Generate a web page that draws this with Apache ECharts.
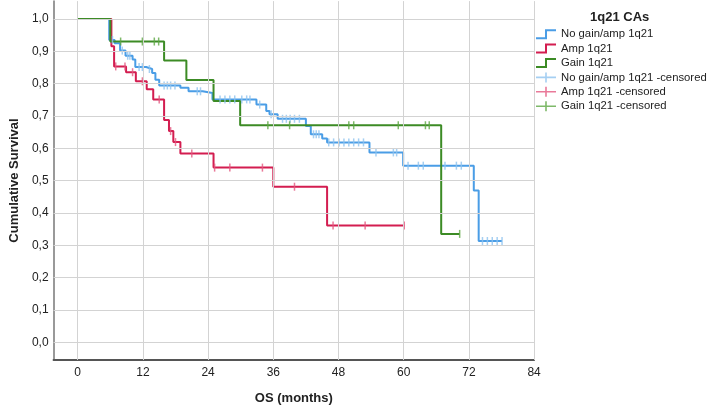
<!DOCTYPE html>
<html>
<head>
<meta charset="utf-8">
<script src="https://cdn.jsdelivr.net/npm/echarts@6/dist/echarts.min.js"></script>
<style>
  html, body { margin: 0; padding: 0; background: #fff; }
  #chart { width: 708px; height: 410px; }
</style>
</head>
<body>
<div id="chart"></div>
<script>
// tick labels
const xTicks = [0, 12, 24, 36, 48, 60, 72, 84];
const yTicks = [0, 0.1, 0.2, 0.3, 0.4, 0.5, 0.6, 0.7, 0.8, 0.9, 1.0];

// No gain/amp 1q21 : event times (months) and survival after each step
const noGainTimes = [0, 5.8, 6.8, 7.8, 8.8, 10.1, 10.6, 12.6, 13.7, 14.3, 15.0, 18.9, 20.4, 23.0, 24.8, 32.9, 34.7, 35.3, 36.8, 42.0, 42.9, 45.0, 45.9, 53.7, 59.9, 72.9, 73.8];
const noGainSurv = [1.0, 0.935, 0.925, 0.902, 0.886, 0.874, 0.851, 0.845, 0.833, 0.812, 0.794, 0.787, 0.776, 0.771, 0.751, 0.735, 0.715, 0.705, 0.691, 0.669, 0.643, 0.630, 0.618, 0.587, 0.546, 0.469, 0.313];
const noGainCensored = [6.4, 8.2, 9.2, 9.6, 11.3, 11.9, 13.2, 15.9, 16.5, 17.1, 17.9, 22.0, 22.6, 26.2, 27.1, 28.0, 28.9, 30.2, 31.1, 31.7, 33.5, 35.6, 37.7, 38.4, 39.1, 39.9, 40.8, 43.4, 43.9, 44.4, 46.2, 47.1, 48.1, 49.0, 49.9, 50.8, 51.7, 52.6, 54.9, 58.1, 58.7, 60.8, 62.7, 63.6, 67.6, 69.7, 70.6, 74.5, 75.4, 76.3, 77.2, 78.1];

// Amp 1q21
const ampTimes = [0, 6.2, 6.7, 8.9, 10.7, 12.7, 13.9, 15.9, 16.8, 17.6, 18.9, 25.0, 36.0, 45.9];
const ampSurv = [1.0, 0.915, 0.853, 0.835, 0.807, 0.782, 0.751, 0.687, 0.653, 0.619, 0.584, 0.540, 0.481, 0.361];
const ampCensored = [7.0, 8.7, 10.1, 11.9, 15.0, 17.1, 18.0, 21.0, 25.2, 28.0, 34.0, 39.9, 47.0, 52.9, 60.1];

// Gain 1q21
const gainTimes = [0, 6.0, 15.9, 20.0, 25.0, 29.9, 66.9];
const gainSurv = [1.0, 0.930, 0.871, 0.811, 0.746, 0.671, 0.335];
const gainCensored = [7.9, 11.9, 14.1, 14.9, 35.0, 39.0, 49.9, 50.8, 59.0, 64.0, 64.7, 70.3];

const groupNames = ["No gain/amp 1q21", "Amp 1q21", "Gain 1q21"];
const lineColors = ["#4a9de6", "#d31d50", "#3c8b25"];
const censorColors = ["#8fc3ef", "#e4577f", "#5ea843"];

// survival value at time t (step function)
function survAt(times, surv, t) {
  let s = surv[0];
  times.forEach((tt, i) => {
    if (tt <= t) s = surv[i];
  });
  return s;
}

// curve points, extended to the last follow-up
function stepData(times, surv, censored) {
  const pts = times.map((t, i) => [t, surv[i]]);
  const end = Math.max(...censored);
  if (end > times[times.length - 1]) pts.push([end, surv[surv.length - 1]]);
  return pts;
}

function censorData(times, surv, censored) {
  return censored.map(t => [t, survAt(times, surv, t)]);
}

const groups = [
  [noGainTimes, noGainSurv, noGainCensored],
  [ampTimes, ampSurv, ampCensored],
  [gainTimes, gainSurv, gainCensored],
];

const stepIcon = "path://M0,8 L9,8 L9,0 L20,0 L20,2 L11,2 L11,10 L0,10 Z";
const plusIcon = "path://M0,4.2 L20,4.2 L20,5.8 L0,5.8 Z M9.2,0 L10.8,0 L10.8,10 L9.2,10 Z";

const series = [];
// gridlines drawn at tick values
series.push({
  type: "line",
  data: [],
  silent: true,
  markLine: {
    silent: true,
    symbol: ["none", "none"],
    label: { show: false },
    lineStyle: { color: "#d3d3d3", width: 1, type: "solid" },
    animation: false,
    data: xTicks.map(v => ({ xAxis: v })).concat(yTicks.map(v => ({ yAxis: v }))),
  },
});
groups.forEach((g, i) => {
  series.push({
    name: groupNames[i],
    type: "line",
    step: "end",
    showSymbol: false,
    symbol: "none",
    data: stepData(g[0], g[1], g[2]),
    itemStyle: { color: lineColors[i] },
    lineStyle: { color: lineColors[i], width: 2 },
    z: 3,
  });
});
groups.forEach((g, i) => {
  series.push({
    name: groupNames[i] + " -censored",
    type: "scatter",
    symbol: "rect",
    symbolSize: [1.5, 8],
    data: censorData(g[0], g[1], g[2]),
    itemStyle: { color: censorColors[i] },
    z: 4,
  });
});

const legendData = groupNames.map(n => ({ name: n, icon: stepIcon }))
  .concat(groupNames.map(n => ({ name: n + " -censored", icon: plusIcon })));

const fmt = v => v.toFixed(1).replace(".", ",");

const option = {
  animation: false,
  backgroundColor: "#fff",
  textStyle: { fontFamily: "Liberation Sans, Arial, sans-serif" },
  title: {
    text: "1q21 CAs",
    left: 585,
    top: 6,
    textStyle: { fontSize: 13, fontWeight: "bold", color: "#222", fontFamily: "Liberation Sans, Arial, sans-serif" },
  },
  legend: {
    orient: "vertical",
    left: 531,
    top: 22,
    itemWidth: 20,
    itemHeight: 10,
    itemGap: 0,
    selectedMode: false,
    data: legendData,
    textStyle: { fontSize: 11.3, color: "#222", lineHeight: 14.4, fontFamily: "Liberation Sans, Arial, sans-serif", overflow: "none" },
  },
  grid: { left: 48.3, right: 173.9, top: 1.1, bottom: 47.1, containLabel: false },
  xAxis: {
    type: "value",
    min: -4.44,
    max: 84,
    name: "OS (months)",
    nameLocation: "middle",
    nameGap: 32,
    nameTextStyle: { fontSize: 13, fontWeight: "bold", color: "#222" },
    axisLine: { show: true, onZero: false, lineStyle: { color: "#555", width: 2 } },
    axisTick: { show: false },
    splitLine: { show: false },
    axisLabel: { customValues: xTicks, fontSize: 12, color: "#222", margin: 7 },
  },
  yAxis: {
    type: "value",
    min: -0.055,
    max: 1.055,
    name: "Cumulative Survival",
    nameLocation: "middle",
    nameGap: 21,
    nameTextStyle: { fontSize: 13, fontWeight: "bold", color: "#222" },
    axisLine: { show: true, onZero: false, lineStyle: { color: "#777", width: 1.5 } },
    axisTick: { show: false },
    splitLine: { show: false },
    axisLabel: { customValues: yTicks, fontSize: 12, color: "#222", margin: 5, formatter: fmt },
  },
  series: series,
};

const myChart = echarts.init(document.getElementById("chart"));
myChart.setOption(option);
</script>
</body>
</html>
